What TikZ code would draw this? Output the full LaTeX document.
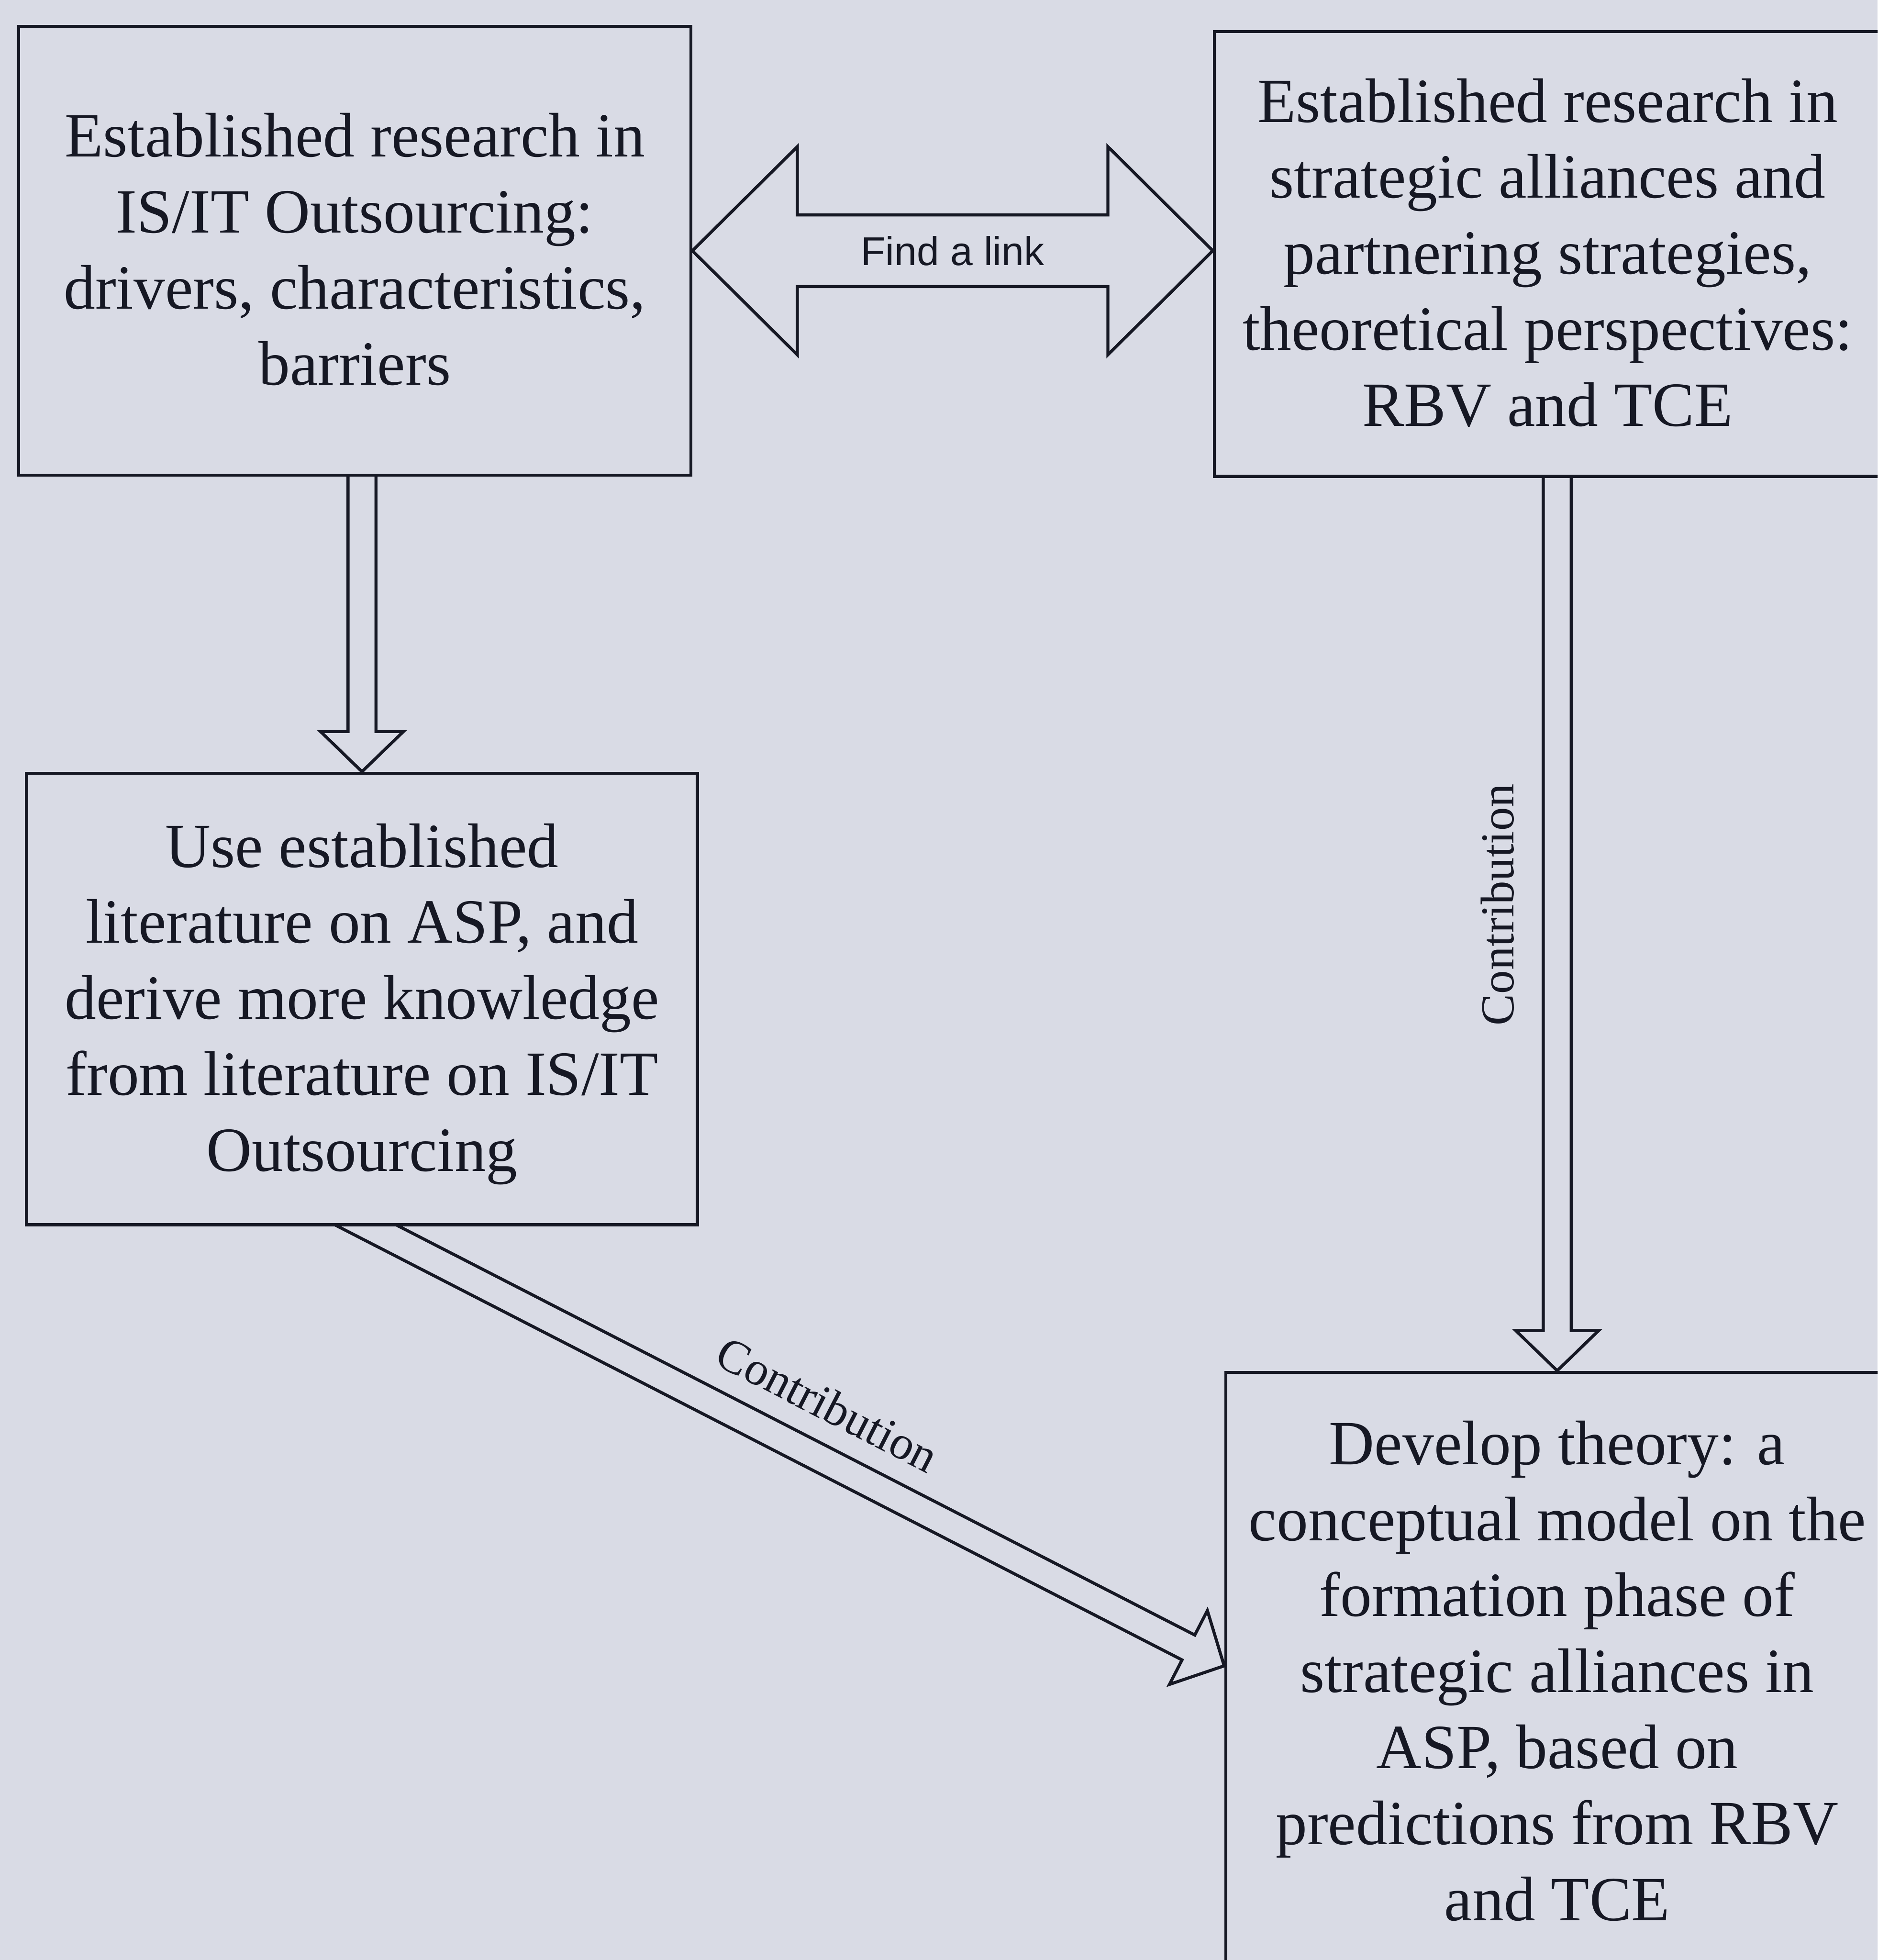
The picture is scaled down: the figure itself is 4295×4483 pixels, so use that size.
\documentclass[tikz,border=0pt]{standalone}
\usepackage{fontspec}
\setmainfont{Liberation Serif}
\newfontfamily\labelsans{Liberation Sans}
\usetikzlibrary{calc}

\definecolor{paper}{RGB}{217,219,229}
\definecolor{ink}{RGB}{22,24,36}

\pgfdeclarelayer{paperlayer}
\pgfdeclarelayer{arrowlayer}
\pgfsetlayers{paperlayer,arrowlayer,main}

% centred stack of lines; the taller first strut sets the text a little lower
\newcommand\boxlines[1]{\begin{tabular}{@{}c@{}}\rule{0pt}{20.5pt}#1\end{tabular}}

% hollow block arrow from #1 (tail) to #2 (tip)
\newcommand\blockarrow[2]{%
  \path ($(#2)!0.46cm!(#1)$) coordinate (ba-h);
  \draw[blockline]
    ($(#1)!0.16cm!90:(#2)$) --
    ($(ba-h)!0.16cm!-90:(#1)$) --
    ($(ba-h)!0.475cm!-90:(#1)$) --
    (#2) --
    ($(ba-h)!0.475cm!90:(#1)$) --
    ($(ba-h)!0.16cm!90:(#1)$) --
    ($(#1)!0.16cm!-90:(#2)$) -- cycle;
}

\begin{document}
\begin{tikzpicture}[x=0.005cm,y=-0.005cm,
  box/.style={draw=ink, fill=paper, line width=1pt, inner sep=0pt,
    anchor=center, text=ink, font=\fontsize{20.5}{24.75}\selectfont},
  blockline/.style={draw=ink, line width=1pt, line join=miter},
  sanslabel/.style={text=ink, inner sep=0pt, font=\labelsans\fontsize{13.1}{15}\selectfont},
  seriflabel/.style={text=ink, inner sep=0pt, font=\fontsize{15.4}{18}\selectfont}]

\useasboundingbox (0,0) rectangle (4295,4483);
\begin{pgfonlayer}{paperlayer}
  \fill[paper] (0,0) rectangle (4295,4483);
\end{pgfonlayer}
\clip (0,0) rectangle (4295,4483);

% boxes
\node[box, minimum width=7.695cm, minimum height=5.135cm] (A) at (811.5,573.5)
  {\boxlines{Established research in\\IS/IT Outsourcing:\\drivers, characteristics,\\barriers}};
\node[box, minimum width=7.63cm, minimum height=5.09cm] (B) at (3540,581)
  {\boxlines{Established research in\\strategic alliances and\\partnering strategies,\\theoretical perspectives:\\RBV and TCE}};
\node[box, minimum width=7.68cm, minimum height=5.17cm] (C) at (828,2285)
  {\boxlines{Use established\\literature on ASP, and\\derive more knowledge\\from literature on IS/IT\\Outsourcing}};
\node[box, minimum width=7.59cm, minimum height=6.87cm] (D) at (3562,3825)
  {\boxlines{Develop theory: a\\conceptual model on the\\formation phase of\\strategic alliances in\\ASP, based on\\predictions from RBV\\and TCE}};

% connector end points
\coordinate (L) at (A.east);
\coordinate (R) at (A.east -| B.west);
\coordinate (a0) at (C.north |- A.center);
\coordinate (b0) at (D.north |- B.center);
\coordinate (b1) at (D.north |- B.south);
\coordinate (c1) at ($(C.south)+(15,0)$);
\coordinate (d1) at ($(D.north west)+(0,675)$);
\coordinate (c0) at ($(c1)!-0.6cm!(d1)$);

\begin{pgfonlayer}{arrowlayer}
  % double-headed link arrow
  \draw[blockline] (L) -- ($(L)+(240,-238)$) -- ($(L)+(240,-82)$)
    -- ($(R)+(-240,-82)$) -- ($(R)+(-240,-238)$) -- (R)
    -- ($(R)+(-240,238)$) -- ($(R)+(-240,82)$)
    -- ($(L)+(240,82)$) -- ($(L)+(240,238)$) -- cycle;
  \blockarrow{a0}{C.north}
  \blockarrow{b0}{D.north}
  \blockarrow{c0}{d1}
\end{pgfonlayer}

% labels
\node[sanslabel] (link) at ($(L)!0.5!(R)$) {Find a link};
\node[seriflabel, rotate=90] (contribB) at ($(b1)!0.478!(D.north)+(-137,0)$) {Contribution};
\path let \p1=($(d1)-(c1)$), \n1={atan2(\y1,\x1)} in
  node[seriflabel, rotate=\n1] (contribC) at ($($(c1)!0.509!(d1)$)!0.59cm!90:(d1)$) {Contribution};

\end{tikzpicture}
\end{document}
